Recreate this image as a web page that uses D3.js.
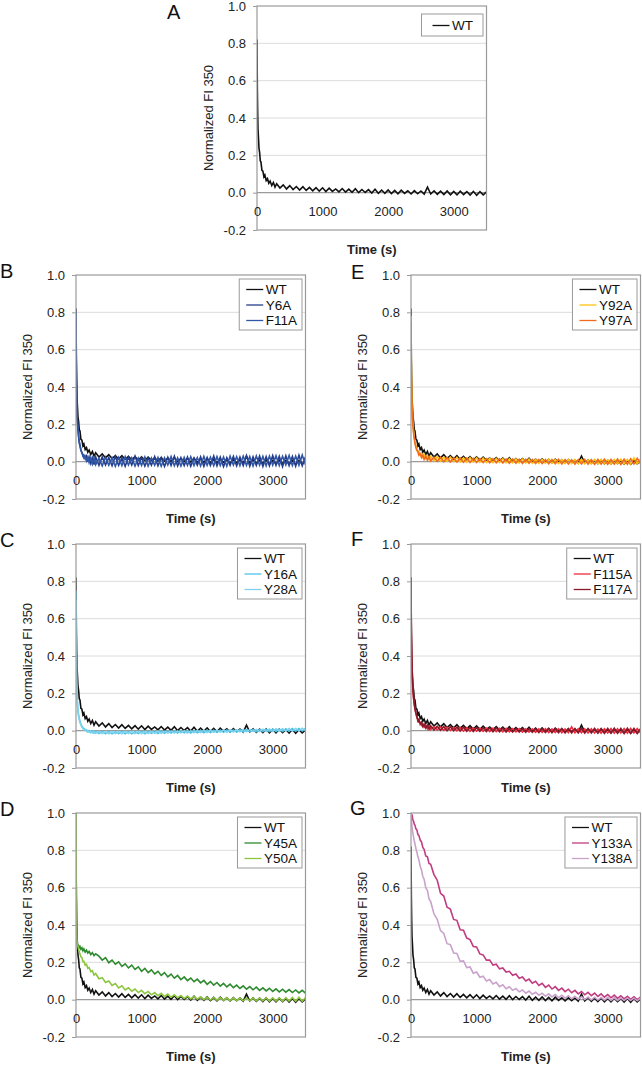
<!DOCTYPE html>
<html>
<head>
<meta charset="utf-8">
<script src="https://cdn.jsdelivr.net/npm/d3@7"></script>
<style>
  html, body { margin: 0; padding: 0; background: #fff; }
  svg { display: block; font-family: "Liberation Sans", Arial, sans-serif; }
</style>
</head>
<body>
<svg id="chart" width="642" height="1065"></svg>
<script>
// ---------------- DATA ----------------
const timeS = [0,5,10,15,20,30,40,50,60,75,90,105,120,140,160,180,200,225,250,275,300,
  350,400,450,500,550,600,650,700,750,800,850,900,950,1000,1050,1100,1150,1200,1250,1300,
  1350,1400,1450,1500,1550,1600,1650,1700,1750,1800,1850,1900,1950,2000,2050,2100,2150,2200,
  2250,2300,2350,2400,2450,2500,2550,2600,2650,2700,2750,2800,2850,2900,2950,3000,3050,3100,
  3150,3200,3250,3300,3350,3400,3450,3500];

const WT = [0.82,0.56,0.43,0.34,0.31,0.24,0.215,0.17,0.165,0.12,0.115,0.085,0.095,0.065,0.075,0.05,0.062,0.038,0.055,0.03,0.048,
  0.025,0.042,0.02,0.038,0.017,0.033,0.014,0.032,0.012,0.028,0.01,0.027,0.008,0.026,0.006,0.024,0.007,0.02,0.004,0.022,
  0.003,0.019,0.002,0.021,0.0,0.017,0.001,0.016,-0.002,0.018,-0.003,0.014,-0.004,0.015,-0.005,0.012,-0.006,0.013,
  -0.004,0.01,-0.007,0.011,-0.006,0.009,-0.008,0.03,-0.007,0.01,-0.009,0.008,-0.01,0.009,-0.011,0.007,-0.012,0.008,
  -0.01,0.006,-0.013,0.007,-0.014,0.005,-0.012,0.004];

const Y6A = [0.78,0.45,0.33,0.26,0.22,0.17,0.13,0.10,0.085,0.06,0.05,0.03,0.035,0.015,0.03,0.0,0.025,-0.01,0.02,-0.015,0.025,
  -0.02,0.025,-0.018,0.022,-0.022,0.028,-0.02,0.02,-0.025,0.024,-0.018,0.03,-0.021,0.022,-0.024,0.02,-0.019,0.027,-0.022,0.021,
  -0.026,0.024,-0.02,0.029,-0.023,0.022,-0.021,0.025,-0.024,0.02,-0.019,0.026,-0.025,0.023,-0.02,0.03,-0.022,0.024,
  -0.027,0.021,-0.02,0.028,-0.023,0.025,-0.021,0.032,-0.024,0.026,-0.02,0.03,-0.025,0.027,-0.022,0.033,-0.02,0.029,
  -0.026,0.031,-0.021,0.028,-0.024,0.034,-0.022,0.026];

const F11A = [0.8,0.5,0.36,0.28,0.23,0.18,0.14,0.11,0.09,0.065,0.045,0.04,0.02,0.03,0.005,0.025,-0.005,0.022,-0.012,0.02,-0.016,
  0.018,-0.022,0.024,-0.019,0.02,-0.025,0.022,-0.021,0.026,-0.018,0.021,-0.024,0.019,-0.02,0.025,-0.023,0.02,-0.019,0.023,-0.025,
  0.021,-0.018,0.027,-0.022,0.02,-0.024,0.023,-0.02,0.026,-0.021,0.022,-0.023,0.028,-0.019,0.024,-0.022,0.027,-0.02,
  0.025,-0.024,0.029,-0.018,0.026,-0.021,0.03,-0.02,0.027,-0.023,0.031,-0.019,0.028,-0.022,0.03,-0.018,0.032,-0.021,
  0.029,-0.017,0.033,-0.02,0.03,-0.019,0.035,-0.016];

const Y16A = [0.75,0.4,0.28,0.2,0.16,0.11,0.085,0.065,0.05,0.035,0.025,0.015,0.012,0.002,0.004,-0.006,0.0,-0.01,-0.002,-0.013,-0.004,
  -0.015,-0.003,-0.016,-0.004,-0.017,-0.005,-0.015,-0.003,-0.016,-0.004,-0.017,-0.005,-0.015,-0.003,-0.016,-0.004,-0.014,-0.003,-0.015,-0.002,
  -0.014,-0.002,-0.013,-0.001,-0.013,-0.001,-0.012,0.0,-0.012,0.0,-0.011,0.001,-0.011,0.002,-0.01,0.002,-0.009,0.003,
  -0.009,0.004,-0.008,0.004,-0.007,0.005,-0.007,0.006,-0.006,0.006,-0.006,0.007,-0.005,0.008,-0.005,0.008,-0.004,0.009,
  -0.004,0.01,-0.003,0.011,-0.003,0.012,-0.002,0.012];

const Y28A = [0.7,0.38,0.26,0.19,0.15,0.1,0.075,0.06,0.045,0.03,0.018,0.012,0.004,0.006,-0.004,0.001,-0.008,-0.002,-0.012,-0.004,-0.014,
  -0.004,-0.016,-0.005,-0.017,-0.004,-0.016,-0.006,-0.017,-0.004,-0.015,-0.005,-0.016,-0.004,-0.015,-0.003,-0.015,-0.004,-0.014,-0.002,-0.014,
  -0.003,-0.013,-0.001,-0.013,-0.002,-0.012,0.0,-0.012,0.0,-0.011,0.001,-0.01,0.002,-0.01,0.002,-0.009,0.003,-0.008,
  0.004,-0.008,0.005,-0.007,0.005,-0.006,0.006,-0.006,0.007,-0.005,0.007,-0.005,0.008,-0.004,0.009,-0.004,0.01,-0.003,
  0.01,-0.002,0.011,-0.002,0.012,-0.001,0.013,0.0];

const Y45A = [1.0,0.45,0.33,0.31,0.3,0.295,0.29,0.28,0.285,0.27,0.278,0.262,0.272,0.255,0.265,0.25,0.258,0.242,0.252,0.236,0.246,
  0.233,0.212,0.225,0.198,0.212,0.19,0.203,0.178,0.192,0.17,0.185,0.162,0.176,0.152,0.168,0.145,0.16,0.138,0.152,0.13,
  0.145,0.122,0.137,0.115,0.13,0.108,0.122,0.102,0.116,0.096,0.11,0.09,0.103,0.082,0.097,0.078,0.092,0.073,
  0.087,0.068,0.083,0.064,0.078,0.06,0.074,0.056,0.07,0.053,0.067,0.05,0.063,0.047,0.061,0.044,0.058,0.042,
  0.056,0.04,0.054,0.038,0.052,0.036,0.05,0.035];

const Y50A = [1.0,0.55,0.35,0.31,0.3,0.285,0.27,0.255,0.245,0.23,0.225,0.205,0.205,0.185,0.19,0.168,0.172,0.15,0.155,0.132,0.14,
  0.112,0.118,0.092,0.1,0.076,0.086,0.063,0.074,0.052,0.064,0.045,0.057,0.038,0.05,0.032,0.044,0.026,0.038,0.021,0.034,
  0.017,0.03,0.013,0.026,0.01,0.022,0.006,0.019,0.004,0.017,0.002,0.015,0.0,0.013,-0.002,0.012,-0.003,0.011,
  -0.004,0.01,-0.005,0.01,-0.005,0.009,-0.006,0.009,-0.006,0.01,-0.007,0.009,-0.007,0.01,-0.008,0.009,-0.008,0.01,
  -0.009,0.011,-0.008,0.012,-0.009,0.013,-0.008,0.012];

const Y92A = [0.78,0.5,0.38,0.3,0.26,0.2,0.16,0.13,0.11,0.085,0.07,0.05,0.055,0.035,0.045,0.025,0.038,0.018,0.032,0.012,0.028,
  0.005,0.027,0.003,0.025,0.002,0.024,0.0,0.023,-0.001,0.021,-0.002,0.022,-0.003,0.02,-0.003,0.019,-0.004,0.018,-0.005,0.017,
  -0.005,0.016,-0.006,0.016,-0.006,0.015,-0.007,0.014,-0.007,0.014,-0.008,0.013,-0.008,0.012,-0.009,0.013,-0.009,0.012,
  -0.01,0.011,-0.01,0.012,-0.01,0.011,-0.011,0.012,-0.011,0.01,-0.012,0.011,-0.012,0.012,-0.011,0.01,-0.013,0.011,
  -0.012,0.013,-0.012,0.012,-0.013,0.02,-0.012,0.015];

const Y97A = [0.75,0.46,0.35,0.28,0.24,0.19,0.15,0.12,0.1,0.075,0.06,0.055,0.035,0.042,0.022,0.035,0.012,0.03,0.008,0.026,0.004,
  0.024,0.002,0.023,0.0,0.022,-0.001,0.021,-0.002,0.02,-0.003,0.019,-0.004,0.018,-0.004,0.017,-0.005,0.016,-0.006,0.016,-0.006,
  0.015,-0.007,0.014,-0.008,0.014,-0.008,0.013,-0.009,0.013,-0.009,0.012,-0.01,0.012,-0.01,0.011,-0.011,0.011,-0.011,
  0.012,-0.012,0.011,-0.012,0.01,-0.013,0.011,-0.012,0.012,-0.013,0.011,-0.014,0.012,-0.013,0.013,-0.014,0.012,-0.013,
  0.014,-0.015,0.013,-0.014,0.016,-0.012,0.018,-0.01];

const F115A = [0.8,0.5,0.4,0.32,0.27,0.21,0.17,0.14,0.115,0.09,0.07,0.06,0.045,0.045,0.028,0.035,0.018,0.028,0.01,0.024,0.006,
  0.022,0.004,0.02,0.002,0.019,0.001,0.018,-0.001,0.017,-0.002,0.016,-0.003,0.015,-0.003,0.014,-0.004,0.014,-0.005,0.013,-0.005,
  0.012,-0.006,0.012,-0.006,0.011,-0.007,0.011,-0.008,0.01,-0.008,0.01,-0.009,0.009,-0.009,0.01,-0.01,0.009,-0.01,
  0.01,-0.011,0.009,-0.011,0.02,-0.012,0.01,-0.011,0.009,-0.012,0.01,-0.012,0.009,-0.013,0.01,-0.012,0.011,-0.013,
  0.01,-0.012,0.011,-0.013,0.012,-0.012,0.011,-0.011];

const F117A = [0.82,0.52,0.41,0.33,0.28,0.22,0.175,0.145,0.12,0.095,0.075,0.052,0.06,0.035,0.045,0.022,0.035,0.014,0.03,0.008,0.026,
  0.004,0.024,0.002,0.022,0.0,0.021,-0.001,0.019,-0.002,0.018,-0.003,0.017,-0.004,0.016,-0.004,0.015,-0.005,0.014,-0.006,0.014,
  -0.006,0.013,-0.007,0.012,-0.008,0.012,-0.008,0.011,-0.009,0.011,-0.009,0.01,-0.01,0.01,-0.01,0.011,-0.011,0.01,
  -0.011,0.011,-0.012,0.01,-0.012,0.011,-0.012,0.012,-0.013,0.011,-0.012,0.012,-0.013,0.011,-0.014,0.012,-0.013,0.013,
  -0.014,0.012,-0.015,0.013,-0.014,0.012,-0.015,0.01];

const Y133A = [1.0,0.99,0.985,0.975,0.98,0.96,0.955,0.94,0.935,0.915,0.91,0.885,0.88,0.855,0.845,0.815,0.805,0.77,0.765,0.73,0.725,
  0.67,0.64,0.57,0.555,0.495,0.485,0.43,0.425,0.375,0.372,0.33,0.322,0.285,0.282,0.245,0.24,0.212,0.212,0.185,0.19,
  0.165,0.17,0.148,0.152,0.131,0.138,0.115,0.122,0.1,0.11,0.088,0.098,0.076,0.088,0.066,0.078,0.057,0.07,
  0.05,0.062,0.043,0.056,0.037,0.05,0.031,0.044,0.026,0.039,0.021,0.035,0.017,0.031,0.013,0.027,0.01,0.024,
  0.007,0.021,0.004,0.018,0.002,0.016,0.0,0.014];

const Y138A = [1.0,0.97,0.95,0.93,0.91,0.89,0.87,0.85,0.835,0.81,0.79,0.765,0.75,0.715,0.695,0.66,0.645,0.6,0.585,0.54,0.525,
  0.46,0.43,0.37,0.355,0.3,0.295,0.25,0.248,0.205,0.208,0.172,0.175,0.142,0.148,0.12,0.126,0.1,0.108,0.084,0.093,
  0.07,0.08,0.059,0.069,0.05,0.06,0.042,0.052,0.035,0.046,0.029,0.04,0.024,0.035,0.019,0.031,0.015,0.027,
  0.011,0.024,0.008,0.021,0.005,0.018,0.003,0.016,0.001,0.014,-0.001,0.013,-0.002,0.012,-0.003,0.011,-0.004,0.01,
  -0.004,0.009,-0.005,0.009,-0.005,0.008,-0.006,0.008];

const yTickValues = [-0.2, 0.0, 0.2, 0.4, 0.6, 0.8, 1.0];
const gridValues = [0.2, 0.4, 0.6, 0.8];
const xTickValues = [0, 1000, 2000, 3000];
const yTitle = "Normalized FI 350";
const xTitle = "Time (s)";

// series name -> values
const seriesData = { WT, Y6A, F11A, Y16A, Y28A, Y45A, Y50A, Y92A, Y97A, F115A, F117A, Y133A, Y138A };
const seriesColor = {
  WT: "#111111", Y6A: "#253d8c", F11A: "#2f57a6", Y16A: "#4ec3e6", Y28A: "#7fd2ec",
  Y45A: "#2e8a2e", Y50A: "#8cc63f", Y92A: "#ffc20e", Y97A: "#f26a1b",
  F115A: "#ee2a3c", F117A: "#8a1a2a", Y133A: "#c23c80", Y138A: "#c9a2cc"
};

// panel layout
const panels = [
  { letter: "A", left: 257, top: 6,   lx: 167, ly: 19,  legTop: 8, padL: 11, padR: 10, row1: 11.5, series: ["WT"] },
  { letter: "B", left: 76,  top: 275, lx: 0,   ly: 278, legTop: 4, padL: 7, padR: 5, row1: 10.5, series: ["WT", "Y6A", "F11A"] },
  { letter: "C", left: 76,  top: 544, lx: 0,   ly: 547, legTop: 4, padL: 7, padR: 5, row1: 10.5, series: ["WT", "Y16A", "Y28A"] },
  { letter: "D", left: 76,  top: 813, lx: 0,   ly: 816, legTop: 4, padL: 7, padR: 5, row1: 10.5, series: ["WT", "Y45A", "Y50A"] },
  { letter: "E", left: 411, top: 275, lx: 351, ly: 279, legTop: 4, padL: 7, padR: 5, row1: 10.5, series: ["WT", "Y92A", "Y97A"] },
  { letter: "F", left: 411, top: 544, lx: 351, ly: 546, legTop: 4, padL: 7, padR: 5, row1: 10.5, series: ["WT", "F115A", "F117A"] },
  { letter: "G", left: 411, top: 813, lx: 350, ly: 815, legTop: 4, padL: 7, padR: 5, row1: 10.5, series: ["WT", "Y133A", "Y138A"] }
];

const W = 229.5, H = 224;
const svg = d3.select("#chart");
const fontFam = '"Liberation Sans", Arial, sans-serif';

panels.forEach((p, pi) => {
  const x = d3.scaleLinear().domain([0, 3500]).range([0, W]);
  const y = d3.scaleLinear().domain([-0.2, 1.0]).range([H, 0]);

  svg.append("text").attr("x", p.lx).attr("y", p.ly)
    .attr("font-size", 20).attr("fill", "#111").text(p.letter);

  const g = svg.append("g").attr("transform", `translate(${p.left},${p.top})`);

  // gridlines
  g.selectAll("line.grid").data(gridValues).enter().append("line")
    .attr("x1", 0).attr("x2", W).attr("y1", d => y(d)).attr("y2", d => y(d))
    .attr("stroke", "#dcdcdc").attr("stroke-width", 1);

  // zero axis line
  g.append("line").attr("x1", 0).attr("x2", W).attr("y1", y(0)).attr("y2", y(0))
    .attr("stroke", "#9a9a9a").attr("stroke-width", 1.2);

  // clip
  const cid = "clip" + pi;
  g.append("clipPath").attr("id", cid).append("rect")
    .attr("x", 0).attr("y", -1).attr("width", W).attr("height", H + 1);

  const line = d3.line().x((d, i) => x(timeS[i])).y(d => y(d));
  const lg = g.append("g").attr("clip-path", `url(#${cid})`);
  p.series.forEach(name => {
    lg.append("path").datum(seriesData[name])
      .attr("d", line).attr("fill", "none")
      .attr("stroke", seriesColor[name]).attr("stroke-width", 1.6)
      .attr("stroke-linejoin", "miter");
  });

  // border
  g.append("rect").attr("x", 0).attr("y", 0).attr("width", W).attr("height", H)
    .attr("fill", "none").attr("stroke", "#9a9a9a").attr("stroke-width", 1.2);

  // y axis
  const ya = g.append("g").call(d3.axisLeft(y).tickValues(yTickValues).tickSize(4).tickPadding(7)
      .tickFormat(d => d.toFixed(1)));
  ya.select(".domain").remove();
  ya.selectAll(".tick line").attr("stroke", "#9a9a9a");
  ya.selectAll("text").attr("font-size", 13).attr("fill", "#222").attr("font-family", fontFam);

  // x axis labels along zero line
  const xa = g.append("g").attr("transform", `translate(0,${y(0)})`)
    .call(d3.axisBottom(x).tickValues(xTickValues).tickSize(0).tickPadding(14).tickFormat(d3.format("d")));
  xa.select(".domain").remove();
  xa.selectAll("text").attr("font-size", 13).attr("fill", "#222").attr("font-family", fontFam);

  // axis titles
  g.append("text").attr("transform", `translate(-44,${H / 2}) rotate(-90)`)
    .attr("text-anchor", "middle").attr("font-size", 13).attr("fill", "#222").text(yTitle);
  g.append("text").attr("x", W / 2).attr("y", H + 24)
    .attr("text-anchor", "middle").attr("font-size", 13).attr("font-weight", "bold")
    .attr("fill", "#222").text(xTitle);

  // legend
  const leg = g.append("g");
  const rowH = 15.5;
  const texts = [];
  const items = leg.selectAll("g.item").data(p.series).enter().append("g");
  items.append("line").attr("x1", p.padL).attr("x2", p.padL + 17)
    .attr("y1", (d, i) => p.row1 + i * rowH).attr("y2", (d, i) => p.row1 + i * rowH)
    .attr("stroke", d => seriesColor[d]).attr("stroke-width", 1.3);
  items.append("text").attr("x", p.padL + 19.5).attr("y", (d, i) => p.row1 + i * rowH + 4.8)
    .attr("font-size", 13.5).attr("fill", "#111").text(d => d)
    .each(function () { texts.push(this.getComputedTextLength()); });
  const lw = p.padL + 19.5 + d3.max(texts) + p.padR;
  const lh = 2 * p.row1 + rowH * (p.series.length - 1) - 1;
  leg.insert("rect", ":first-child").attr("width", lw).attr("height", lh)
    .attr("fill", "#fff").attr("stroke", "#9a9a9a").attr("stroke-width", 1);
  leg.attr("transform", `translate(${W - 3.5 - lw},${p.legTop})`);
});
</script>
</body>
</html>
